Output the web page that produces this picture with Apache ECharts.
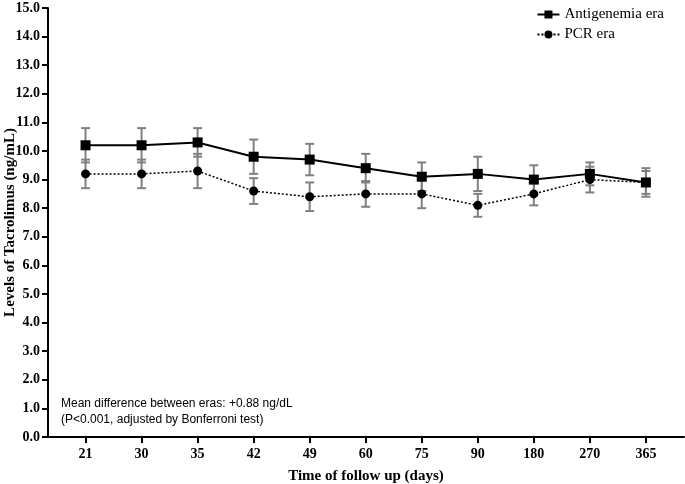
<!DOCTYPE html>
<html>
<head>
<meta charset="utf-8">
<script src="https://cdn.jsdelivr.net/npm/echarts@6/dist/echarts.min.js"></script>
<style>html,body{margin:0;padding:0;background:#fff}#c{width:685px;height:484px}</style>
</head>
<body>
<div id="c"></div>
<script>
var categories = ['21','30','35','42','49','60','75','90','180','270','365'];
var antigenemia = [10.2,10.2,10.3,9.8,9.7,9.4,9.1,9.2,9.0,9.2,8.9];
var antigenemiaErr = [0.6,0.6,0.5,0.6,0.55,0.5,0.5,0.6,0.5,0.4,0.5];
var pcr = [9.2,9.2,9.3,8.6,8.4,8.5,8.5,8.1,8.5,9.0,8.9];
var pcrErr = [0.5,0.5,0.6,0.45,0.5,0.45,0.5,0.4,0.4,0.45,0.4];

var idx = categories.map(function(c,i){return i;});
function pts(vals){return vals.map(function(v,i){return [i,v];});}
function errData(vals,errs){return vals.map(function(v,i){return [i,v-errs[i],v+errs[i]];});}
function errRender(params, api){
  var x = api.value(0);
  var lo = api.coord([x, api.value(1)]);
  var hi = api.coord([x, api.value(2)]);
  var hw = 4.5;
  var st = {stroke:'#808080', lineWidth:2};
  return {type:'group', children:[
    {type:'line', shape:{x1:lo[0],y1:lo[1],x2:hi[0],y2:hi[1]}, style:st},
    {type:'line', shape:{x1:lo[0]-hw,y1:lo[1],x2:lo[0]+hw,y2:lo[1]}, style:st},
    {type:'line', shape:{x1:hi[0]-hw,y1:hi[1],x2:hi[0]+hw,y2:hi[1]}, style:st}
  ]};
}
var serif = '"Liberation Serif", "DejaVu Serif", serif';
var chart = echarts.init(document.getElementById('c'));
chart.setOption({
  animation:false,
  grid:{left:48,right:1,top:8,bottom:47,containLabel:false,outerBoundsMode:'none'},
  legend:{
    right:16, top:2, orient:'vertical', itemGap:5, itemWidth:22, itemHeight:10,
    textStyle:{fontFamily:serif, fontSize:15, color:'#000'},
    data:['Antigenemia era','PCR era']
  },
  xAxis:{
    type:'value', min:-0.67, max:10.68,
    name:'Time of follow up (days)', nameLocation:'middle', nameGap:32,
    nameTextStyle:{fontFamily:serif, fontWeight:'bold', fontSize:15, color:'#000'},
    axisLine:{onZero:false, lineStyle:{color:'#000', width:2}},
    axisTick:{show:true, length:6, lineStyle:{color:'#000', width:2}, customValues:idx},
    axisLabel:{customValues:idx, formatter:function(v){return categories[Math.round(v)];},
      fontFamily:serif, fontWeight:'bold', fontSize:14, color:'#000', margin:10},
    splitLine:{show:false}
  },
  yAxis:{
    type:'value', min:0, max:15, interval:1,
    name:'Levels of Tacrolimus (ng/mL)', nameLocation:'middle', nameGap:30, nameMoveOverlap:false,
    nameTextStyle:{fontFamily:serif, fontWeight:'bold', fontSize:15, color:'#000'},
    axisLine:{show:true, onZero:false, lineStyle:{color:'#000', width:2}},
    axisTick:{show:true, length:6, lineStyle:{color:'#000', width:2}},
    axisLabel:{formatter:function(v){return v.toFixed(1);}, fontFamily:serif, fontWeight:'bold', fontSize:14, color:'#000', margin:8},
    splitLine:{show:false}
  },
  graphic:[
    {type:'text', left:61, top:396, style:{text:'Mean difference between eras: +0.88 ng/dL\n(P<0.001, adjusted by Bonferroni test)', fontFamily:'"Liberation Sans", Arial, sans-serif', fontSize:12, lineHeight:16, fill:'#000'}}
  ],
  series:[
    {type:'custom', name:'errA', renderItem:errRender, data:errData(antigenemia,antigenemiaErr), z:1, silent:true, encode:{x:0,y:[1,2]}},
    {type:'custom', name:'errP', renderItem:errRender, data:errData(pcr,pcrErr), z:1, silent:true, encode:{x:0,y:[1,2]}},
    {type:'line', name:'PCR era', data:pts(pcr), symbol:'circle', symbolSize:9,
      lineStyle:{color:'#000', width:1.5, type:[2,2]}, itemStyle:{color:'#000'}, z:3},
    {type:'line', name:'Antigenemia era', data:pts(antigenemia), symbol:'rect', symbolSize:10,
      lineStyle:{color:'#000', width:2}, itemStyle:{color:'#000'}, z:4}
  ]
});
</script>
</body>
</html>
